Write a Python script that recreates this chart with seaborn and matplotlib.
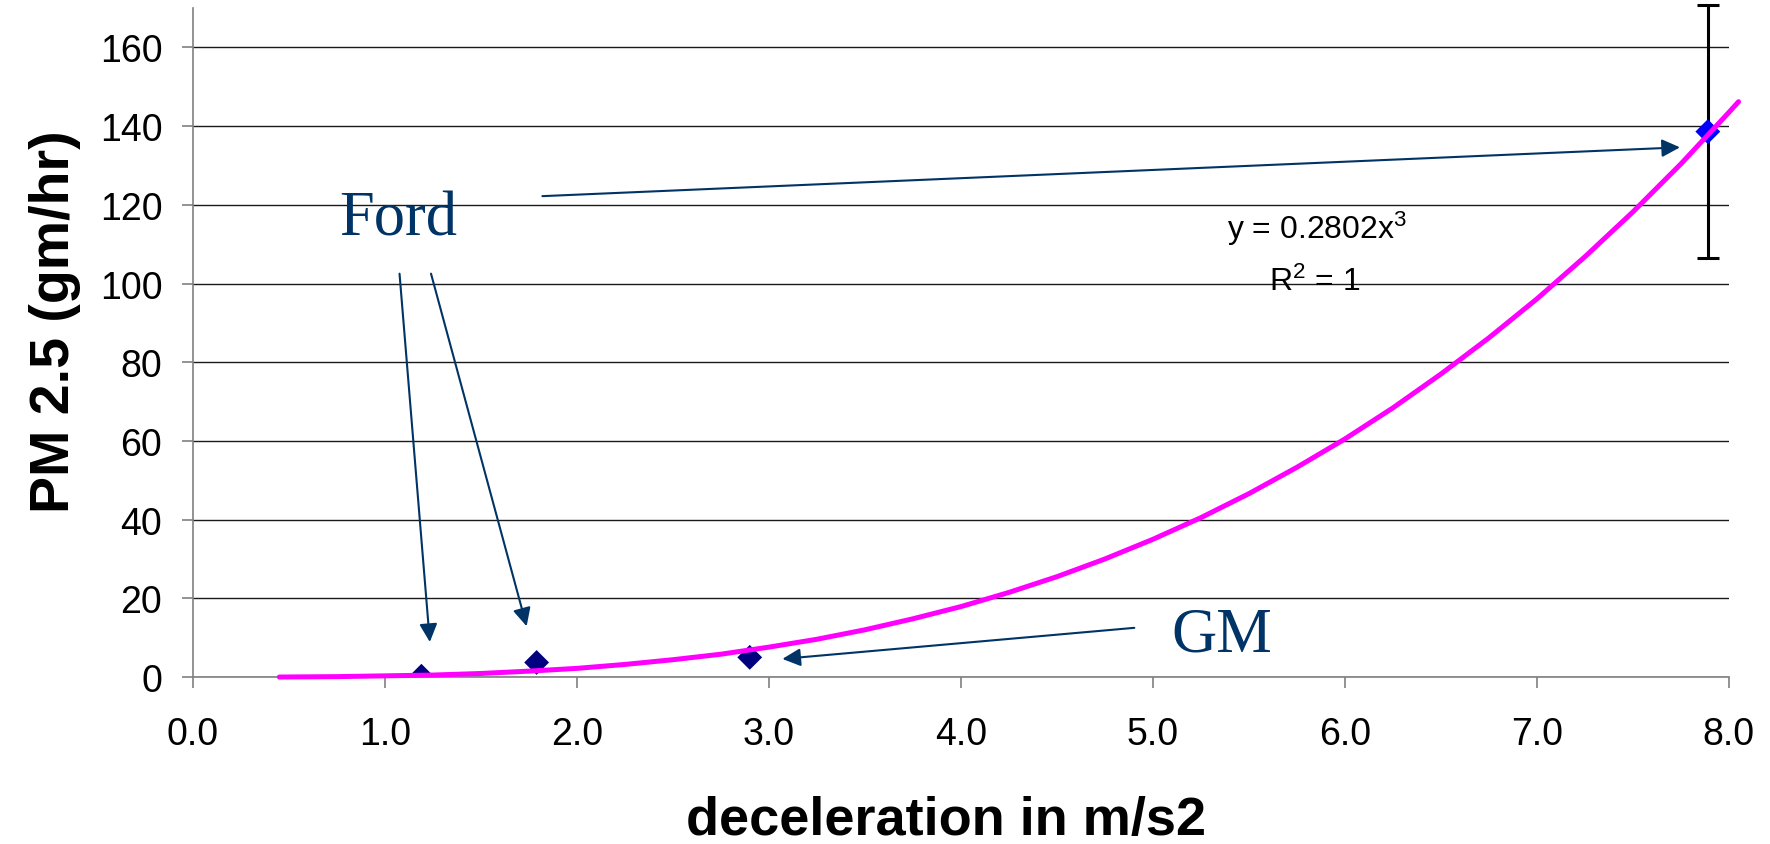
import matplotlib
matplotlib.use("Agg")
import matplotlib.pyplot as plt
import seaborn as sns
import pandas as pd

# measured points
decel = [1.19, 1.79, 2.90, 7.89]
pm25 = [0.2, 3.7, 5.0, 138.6]
group = ["low", "low", "low", "peak"]
peak_err = 32.2

# cubic trendline (y = 0.2802x^3)
trend_x = [0.45, 0.75, 1.0, 1.25, 1.5, 1.75, 2.0, 2.25, 2.5, 2.75, 3.0, 3.25, 3.5,
           3.75, 4.0, 4.25, 4.5, 4.75, 5.0, 5.25, 5.5, 5.75, 6.0, 6.25, 6.5,
           6.75, 7.0, 7.25, 7.5, 7.75, 8.0, 8.05]
trend_y = [0.0, 0.1, 0.3, 0.5, 0.9, 1.5, 2.2, 3.2, 4.4, 5.8, 7.6, 9.6, 12.0,
           14.8, 17.9, 21.5, 25.5, 30.0, 35.0, 40.5, 46.6, 53.3, 60.5, 68.4, 77.0,
           86.2, 96.1, 106.8, 118.2, 130.4, 143.5, 146.2]

x_ticks = [0, 1, 2, 3, 4, 5, 6, 7, 8]
y_ticks = [0, 20, 40, 60, 80, 100, 120, 140, 160]

pts = pd.DataFrame({"decel": decel, "pm25": pm25, "group": group})
trend = pd.DataFrame({"decel": trend_x, "pm25": trend_y})

sns.set_theme(style="white")
plt.rcParams["font.family"] = ["Liberation Sans", "DejaVu Sans"]
plt.rcParams["text.color"] = "black"
plt.rcParams["axes.labelcolor"] = "black"
plt.rcParams["mathtext.fontset"] = "custom"
plt.rcParams["mathtext.rm"] = "Liberation Sans"
plt.rcParams["mathtext.it"] = "Liberation Sans"

fig = plt.figure(figsize=(17.7, 8.45), dpi=100)
ax = fig.add_axes([0.109, 0.1976, 0.8678, 0.7917])

for yt in y_ticks:
    ax.axhline(yt, color="#1a1a1a", lw=1.0, zorder=0)

ax.errorbar(decel[3], pm25[3], yerr=peak_err, fmt="none", ecolor="black",
            elinewidth=2.2, capsize=8, capthick=2.2, clip_on=False, zorder=2)

sns.scatterplot(data=pts, x="decel", y="pm25", hue="group",
                palette={"low": "#000080", "peak": "#0000ff"},
                marker="D", s=160, edgecolor="none", legend=False, ax=ax, zorder=3)

sns.lineplot(data=trend, x="decel", y="pm25", color="#ff00ff", lw=3.6,
             ax=ax, zorder=4, clip_on=False)

navy = "#003366"
arrow = dict(arrowstyle="-|>,head_length=0.55,head_width=0.27", color=navy,
             lw=1.5, mutation_scale=20, shrinkA=0, shrinkB=0)
ax.annotate("", xy=(1.234, 8.9), xytext=(1.076, 102.5), arrowprops=arrow)
ax.annotate("", xy=(1.738, 12.9), xytext=(1.24, 102.5), arrowprops=arrow)
ax.annotate("", xy=(3.07, 4.6), xytext=(4.903, 12.5), arrowprops=arrow)
ax.annotate("", xy=(7.745, 134.6), xytext=(1.82, 122.2), arrowprops=arrow)

ax.text(1.07, 112.4, "Ford", color=navy, fontsize=45, ha="center", va="baseline",
        family=["Liberation Serif", "DejaVu Serif"])
ax.text(5.357, 6.7, "GM", color=navy, fontsize=45, ha="center", va="baseline",
        family=["Liberation Serif", "DejaVu Serif"])

ax.text(5.857, 111.6, r"y = 0.2802x$^{3}$", fontsize=23, ha="center", va="baseline")
ax.text(5.84, 98.4, r"R$^{2}$ = 1", fontsize=23, ha="center", va="baseline")

ax.set_xlim(0, 8)
ax.set_ylim(0, 170)
ax.set_xticks(x_ticks)
ax.set_xticklabels([f"{v:.1f}" for v in x_ticks])
ax.set_yticks(y_ticks)
ax.set_yticklabels([str(v) for v in y_ticks])

for side in ["top", "right"]:
    ax.spines[side].set_visible(False)
for side in ["left", "bottom"]:
    ax.spines[side].set_color("#808080")
    ax.spines[side].set_linewidth(1.2)

ax.tick_params(axis="both", direction="out", length=8, width=1.2, color="#808080",
               labelsize=27, labelcolor="black")
ax.tick_params(axis="x", pad=20, bottom=True)
ax.tick_params(axis="y", pad=14, left=True)

ax.set_xlabel("deceleration in m/s2", fontsize=39, fontweight="bold", color="black")
ax.set_ylabel("PM 2.5 (gm/hr)", fontsize=40, fontweight="bold", color="black")
ax.xaxis.set_label_coords(0.490, -0.177)
ax.yaxis.set_label_coords(-0.0729, 0.532)

fig.savefig("out.png", dpi=100)
